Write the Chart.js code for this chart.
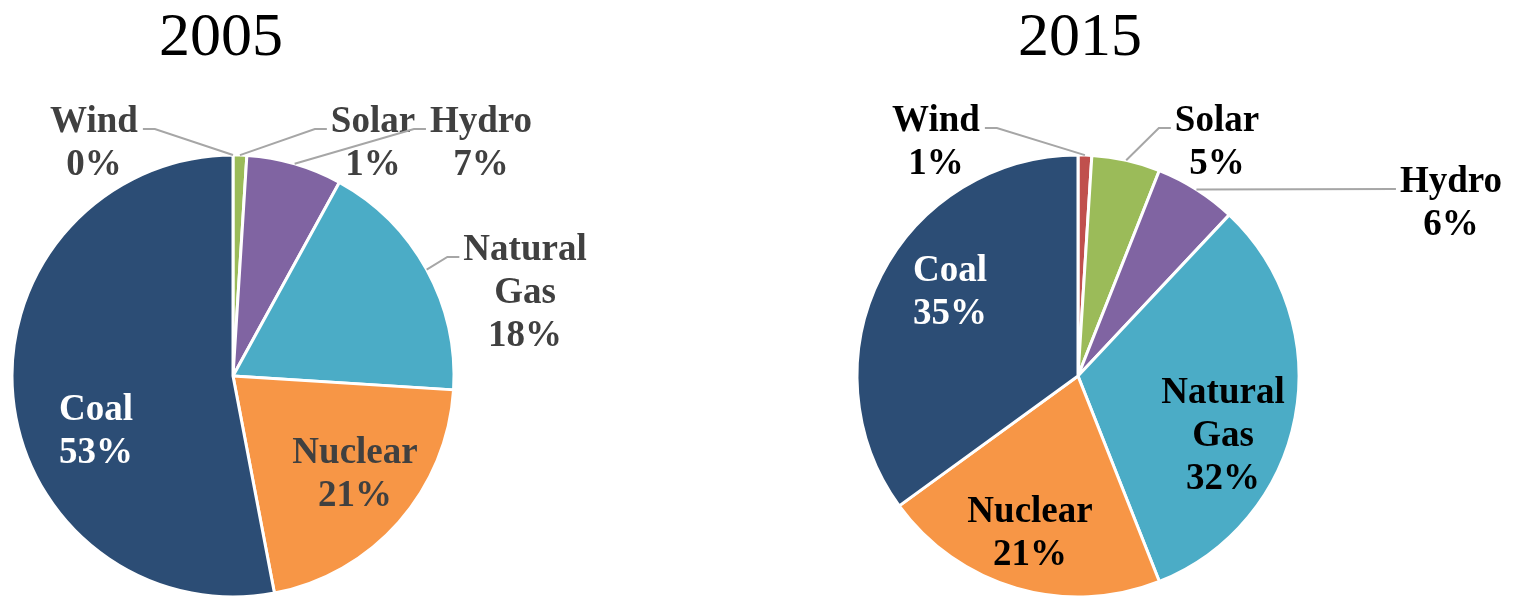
<!DOCTYPE html>
<html>
<head>
<meta charset="utf-8">
<title>Electricity generation mix, 2005 and 2015</title>
<script src="https://cdn.jsdelivr.net/npm/chart.js@4/dist/chart.umd.min.js"></script>
<style>
  html, body { margin: 0; padding: 0; background: #ffffff; overflow: hidden; }
  #wrap { position: relative; width: 1513px; height: 596px; }
  canvas { position: absolute; top: 0; }
  #c2005 { left: 0; }
  #c2015 { left: 757px; }
</style>
</head>
<body>
<div id="wrap">
  <canvas id="c2005" width="756" height="600"></canvas>
  <canvas id="c2015" width="756" height="600"></canvas>
</div>
<script>
// Energy sources, clockwise from 12 o'clock
const categories = ['Wind', 'Solar', 'Hydro', 'Natural Gas', 'Nuclear', 'Coal'];

// Share of generation (%)
const share2005 = [0, 1, 7, 18, 21, 53];
const share2015 = [1, 5, 6, 32, 21, 35];

const years = ['2005', '2015'];

const sliceColors = ['#C0504D', '#9BBB59', '#8064A2', '#4BACC6', '#F79646', '#2C4D75'];

// Label placement, as offsets from the pie centre (first-line baseline).
// leader: true draws a callout line to the slice's outer edge.
const labelLayout2005 = [
  { dx: -139, dy: -244, color: '#404040', leader: true,  side: 'left'  },
  { dx:  140, dy: -244, color: '#404040', leader: true,  side: 'right' },
  { dx:  248, dy: -244, color: '#404040', leader: true,  side: 'right' },
  { dx:  292, dy: -116, color: '#404040', leader: true,  side: 'right' },
  { dx:  122, dy:   87, color: '#404040', leader: false },
  { dx: -137, dy:   44, color: '#FFFFFF', leader: false }
];
const labelLayout2015 = [
  { dx: -142, dy: -245, color: '#000000', leader: true,  side: 'left'  },
  { dx:  139, dy: -245, color: '#000000', leader: true,  side: 'right' },
  { dx:  373, dy: -184, color: '#000000', leader: true,  side: 'right', elbow: 0 },
  { dx:  145, dy:   27, color: '#000000', leader: false },
  { dx:  -48, dy:  146, color: '#000000', leader: false },
  { dx: -128, dy:  -95, color: '#FFFFFF', leader: false }
];

const LABEL_FONT = 'bold 37px "Liberation Serif", "Times New Roman", serif';
const TITLE_FONT = '62px "Liberation Serif", "Times New Roman", serif';
const LINE_H = 43;
const PIE_R = 221;

// Draws the year title, slice labels and callout lines
const pieLabels = {
  id: 'pieLabels',
  afterDraw(chart, args, opts) {
    const ctx = chart.ctx;
    const meta = chart.getDatasetMeta(0);
    const values = chart.data.datasets[0].data;
    const cx = meta.data[0].x, cy = meta.data[0].y;

    ctx.save();
    // title
    ctx.font = TITLE_FONT;
    ctx.fillStyle = '#000000';
    ctx.textAlign = 'center';
    ctx.textBaseline = 'alphabetic';
    ctx.fillText(opts.title, opts.titleX, 55);

    ctx.font = LABEL_FONT;
    meta.data.forEach((arc, i) => {
      const lay = opts.layout[i];
      const lines = chart.data.labels[i].split(' ').concat([values[i] + '%']);
      const tx = cx + lay.dx, ty = cy + lay.dy;

      if (lay.leader) {
        const p = arc.getProps(['startAngle', 'endAngle', 'outerRadius']);
        const mid = (p.startAngle + p.endAngle) / 2;
        const ex = cx + Math.cos(mid) * p.outerRadius;
        const ey = cy + Math.sin(mid) * p.outerRadius;
        const w = ctx.measureText(lines[0]).width;
        const ly = ty - 3;
        const sx = lay.side === 'left' ? tx + w / 2 + 5 : tx - w / 2 - 4;
        const elbow = lay.elbow === undefined ? 12 : lay.elbow;
        const bx = lay.side === 'left' ? sx + elbow : sx - elbow;
        ctx.beginPath();
        ctx.moveTo(sx, ly);
        ctx.lineTo(bx, ly);
        ctx.lineTo(ex, ey);
        ctx.strokeStyle = '#A6A6A6';
        ctx.lineWidth = 2;
        ctx.stroke();
      }

      ctx.fillStyle = lay.color;
      lines.forEach((t, k) => ctx.fillText(t, tx, ty + k * LINE_H));
    });
    ctx.restore();
  }
};

function makePie(canvasId, values, layout, title, titleX, padLeft, padRight) {
  return new Chart(document.getElementById(canvasId), {
    type: 'pie',
    data: {
      labels: categories,
      datasets: [{
        data: values,
        backgroundColor: sliceColors,
        borderColor: '#FFFFFF',
        borderWidth: 3,
        radius: PIE_R
      }]
    },
    options: {
      responsive: false,
      animation: false,
      events: [],
      layout: { padding: { left: padLeft, right: padRight, top: 155, bottom: 3 } },
      plugins: {
        legend: { display: false },
        tooltip: { enabled: false },
        pieLabels: { layout: layout, title: title, titleX: titleX }
      }
    },
    plugins: [pieLabels]
  });
}

makePie('c2005', share2005, labelLayout2005, years[0], 221, 12, 302);
makePie('c2015', share2015, labelLayout2015, years[1], 323, 100, 214);
</script>
</body>
</html>
